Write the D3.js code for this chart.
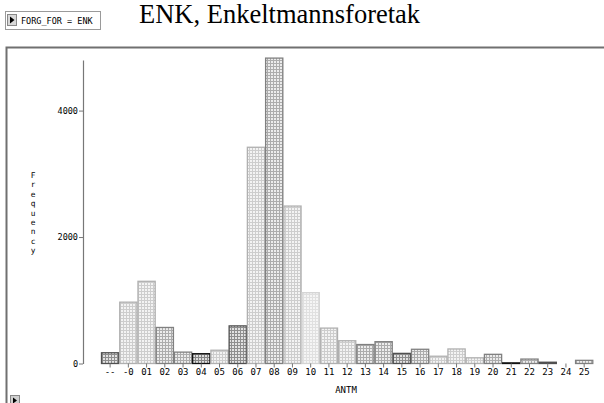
<!DOCTYPE html>
<html><head><meta charset="utf-8">
<script src="https://cdn.jsdelivr.net/npm/d3@7"></script>
<style>
html,body{margin:0;padding:0;background:#fff;}
svg{display:block;}
.mono{font-family:"DejaVu Sans Mono","Liberation Mono",monospace;}
</style></head><body>
<script>
// ---- data ----
const categories = ["--","-0","01","02","03","04","05","06","07","08","09","10","11","12","13","14","15","16","17","18","19","20","21","22","23","24","25"];
const frequencies = [170,970,1300,570,180,155,210,595,3420,4830,2490,1120,560,360,300,345,160,225,115,230,90,145,10,70,20,0,50];
const yTicks = [0,2000,4000];
const title = "ENK, Enkeltmannsforetak";
const filterLabel = "FORG_FOR = ENK";
const xTitle = "ANTM";
const yTitle = "Frequency";
// shade level per bar (style only)
const shadeLevels = [3,1,1,2,2,4,1,3,1,2,1,0,1,1,2,2,3,2,1,1,1,2,4,2,3,0,2];

const W = 604, H = 403;
const svg = d3.select("body").append("svg").attr("width",W).attr("height",H);

const shades = [
  {bg:"#f5f5f5", grid:"#e0e0e0", stroke:"#d4d4d4"},
  {bg:"#f3f3f3", grid:"#cdcdcd", stroke:"#b0b0b0"},
  {bg:"#ececec", grid:"#acacac", stroke:"#808080"},
  {bg:"#e2e2e2", grid:"#8e8e8e", stroke:"#505050"},
  {bg:"#dedede", grid:"#858585", stroke:"#111111"}
];
const defs = svg.append("defs");
shades.forEach((s,i)=>{
  const p = defs.append("pattern").attr("id","pat"+i).attr("width",3).attr("height",3)
    .attr("patternUnits","userSpaceOnUse");
  p.append("rect").attr("width",3).attr("height",3).attr("fill",s.bg);
  p.append("rect").attr("x",0).attr("y",0).attr("width",1).attr("height",3).attr("fill",s.grid);
  p.append("rect").attr("x",0).attr("y",0).attr("width",3).attr("height",1).attr("fill",s.grid);
});

// frame
svg.append("path").attr("d","M6.5,404 L6.5,47.5 L605,47.5").attr("fill","none")
  .attr("stroke","#707070").attr("stroke-width",2);

// filter box
svg.append("rect").attr("x",5.5).attr("y",11.5).attr("width",95).attr("height",18)
  .attr("fill","#fff").attr("stroke","#9a9a9a");
svg.append("rect").attr("x",7.5).attr("y",14.5).attr("width",9).attr("height",11)
  .attr("fill","#d8d8d8").attr("stroke","#888");
svg.append("path").attr("d","M10,16.5 L14.5,20 L10,23.5 Z").attr("fill","#000");
svg.append("text").attr("class","mono").attr("x",21).attr("y",24)
  .attr("font-size","8.5px").attr("fill","#000").attr("xml:space","preserve").text(filterLabel);

// bottom-left button
svg.append("rect").attr("x",10.5).attr("y",395.5).attr("width",9).attr("height",9)
  .attr("fill","#d0d0d0").attr("stroke","#888");
svg.append("path").attr("d","M13,397.5 L17,400.5 L13,403.5 Z").attr("fill","#000");

// title
svg.append("text").attr("x",139).attr("y",23)
  .attr("font-family","'Liberation Serif','Times New Roman',serif")
  .attr("font-size","26.5px").attr("fill","#000").text(title);

// scales
const x = d3.scaleBand().domain(categories).range([101,593.3]).padding(0);
const y = d3.scaleLinear().domain([0,4800]).range([363.5,60]);

// bars
svg.append("g").selectAll("rect").data(categories).join("rect")
  .filter((d,i)=>frequencies[i]>0)
  .attr("x",d=>x(d)+0.5)
  .attr("width",x.bandwidth()-1)
  .attr("y",(d)=>y(frequencies[categories.indexOf(d)]))
  .attr("height",(d)=>Math.max(0.5,y(0)-y(frequencies[categories.indexOf(d)])))
  .attr("fill",(d)=>"url(#pat"+shadeLevels[categories.indexOf(d)]+")")
  .attr("stroke",(d)=>shades[shadeLevels[categories.indexOf(d)]].stroke)
  .attr("stroke-width",1.3);

// y axis
const yAxis = svg.append("g").attr("transform","translate(83,0)")
  .call(d3.axisLeft(y).tickValues(yTicks).tickSize(4).tickSizeOuter(0).tickFormat(d3.format("d")));
yAxis.select(".domain").attr("stroke","#777").attr("stroke-width",1.2);
yAxis.selectAll(".tick line").attr("stroke","#777");
yAxis.selectAll(".tick text").attr("class","mono").attr("font-size","8.5px").attr("fill","#000").attr("x",-5);

// x axis
const xAxis = svg.append("g").attr("transform","translate(0,363.5)")
  .call(d3.axisBottom(x).tickSize(4).tickSizeOuter(0));
xAxis.select(".domain").remove();
xAxis.selectAll(".tick line").attr("stroke","#777");
xAxis.selectAll(".tick text").attr("class","mono").attr("font-size","9px").attr("fill","#000").attr("dy","0.9em").attr("y",3);

// axis titles
svg.append("text").attr("class","mono").attr("x",346).attr("y",393).attr("text-anchor","middle")
  .attr("font-size","9px").attr("fill","#000").text(xTitle);
const yt = svg.append("g");
yTitle.split("").forEach((c,i)=>{
  yt.append("text").attr("class","mono").attr("font-size","7.8px").attr("fill","#000")
    .attr("text-anchor","middle").attr("x",33).attr("y",178+i*9.4).text(c);
});
</script>
</body></html>
